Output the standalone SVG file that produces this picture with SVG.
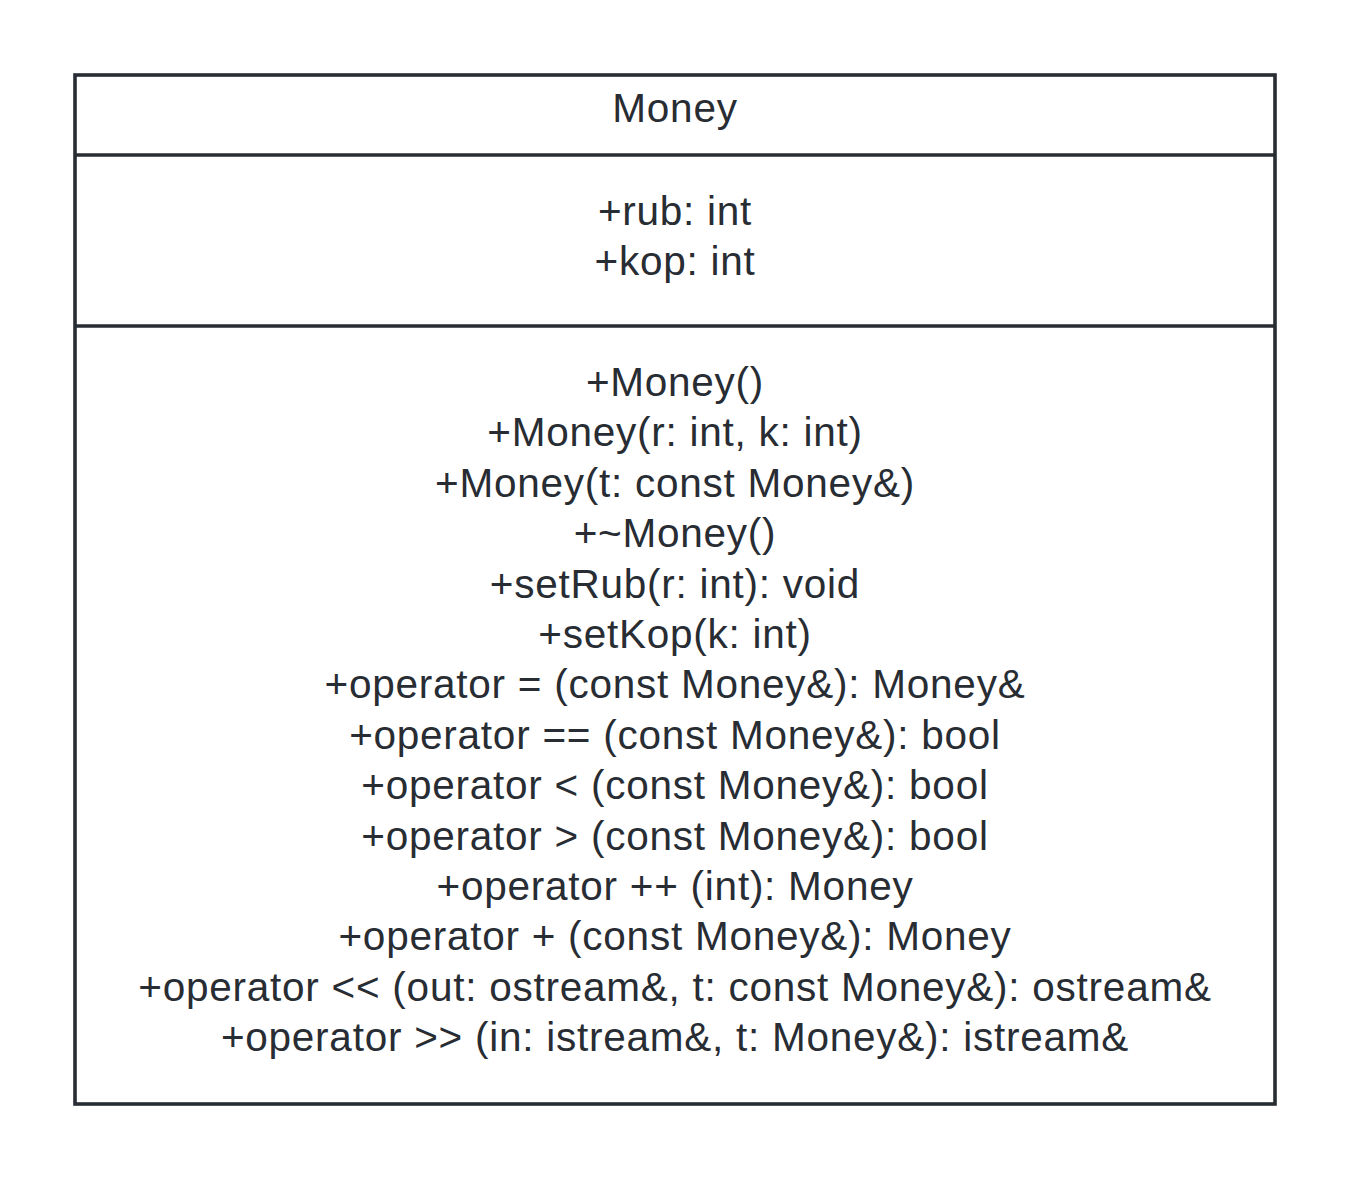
<svg xmlns="http://www.w3.org/2000/svg" width="1350" height="1179" viewBox="0 0 1350 1179">
<style>
.box{fill:#ffffff;stroke:#282c33;stroke-width:3.6}
.sep{stroke:#282c33;stroke-width:3.6}
.t{font-family:"Liberation Sans",Arial,sans-serif;font-size:40.5px;letter-spacing:0.75px;fill:#282c33;text-anchor:middle}
</style>
<rect width="1350" height="1179" fill="#ffffff"/>
<g id="money-class">
<rect class="box" x="75" y="75" width="1200" height="1029"/>
<line class="sep" x1="75" y1="155" x2="1275" y2="155"/>
<line class="sep" x1="75" y1="326" x2="1275" y2="326"/>
<text class="t" x="675" y="122">Money</text>
<text class="t" x="675" y="224.5">+rub: int</text>
<text class="t" x="675" y="275">+kop: int</text>
<text class="t" x="675" y="396">+Money()</text>
<text class="t" x="675" y="446.4">+Money(r: int, k: int)</text>
<text class="t" x="675" y="496.8">+Money(t: const Money&amp;)</text>
<text class="t" x="675" y="547.2">+~Money()</text>
<text class="t" x="675" y="597.6">+setRub(r: int): void</text>
<text class="t" x="675" y="648">+setKop(k: int)</text>
<text class="t" x="675" y="698.4">+operator = (const Money&amp;): Money&amp;</text>
<text class="t" x="675" y="748.8">+operator == (const Money&amp;): bool</text>
<text class="t" x="675" y="799.2">+operator &lt; (const Money&amp;): bool</text>
<text class="t" x="675" y="849.6">+operator &gt; (const Money&amp;): bool</text>
<text class="t" x="675" y="900">+operator ++ (int): Money</text>
<text class="t" x="675" y="950.4">+operator + (const Money&amp;): Money</text>
<text class="t" x="675" y="1000.8">+operator &lt;&lt; (out: ostream&amp;, t: const Money&amp;): ostream&amp;</text>
<text class="t" x="675" y="1051.2">+operator &gt;&gt; (in: istream&amp;, t: Money&amp;): istream&amp;</text>
</g>
<g id="connectors"/>
</svg>
